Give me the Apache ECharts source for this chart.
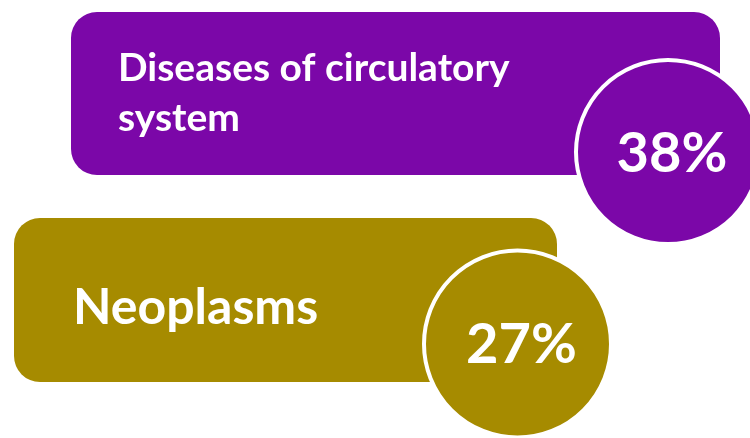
<!DOCTYPE html>
<html>
<head>
<meta charset="utf-8">
<script src="https://cdn.jsdelivr.net/npm/echarts@6/dist/echarts.min.js"></script>
<style>html,body{margin:0;padding:0;background:#fff}#c{width:750px;height:438px}</style>
</head>
<body>
<div id="c"></div>
<script>
// Data
const categories = ['Diseases of circulatory\nsystem', 'Neoplasms'];
const values = [38, 27];
const colors = ['#7B07A8', '#A68B00'];

// Layout (pixels, relative to category band centre for y)
const layout = [
  { x: 71, w: 649, top: -97.5, h: 163, r: 26, cx: 668, cy: 42.5, R: 92,
    tx: 118, ty: [-41.5, 8.5], fs: 39, pctY: 44.5, pctFs: 56 },
  { x: 14, w: 543, top: -110.5, h: 164, r: 26, cx: 517.5, cy: 15.5, R: 93.5,
    tx: 73, ty: [-21], fs: 50, pctY: 16.5, pctFs: 56 }
];
const FONT = 'Lato';

const chart = echarts.init(document.getElementById('c'));
chart.setOption({
  animation: false,
  grid: { left: 0, right: 0, top: 0, bottom: 0 },
  xAxis: { type: 'value', min: 0, max: 100, show: false },
  yAxis: { type: 'category', data: categories, inverse: true, show: false },
  series: [{
    type: 'custom',
    data: values.map((v, i) => [v, i]),
    renderItem: function (params, api) {
      const i = params.dataIndex;
      const L = layout[i];
      const base = api.coord([0, i])[1];
      const lines = categories[i].split('\n');
      const children = [
        { type: 'rect', shape: { x: L.x, y: base + L.top, width: L.w, height: L.h, r: L.r },
          style: { fill: colors[i] } },
        { type: 'circle', shape: { cx: L.cx, cy: base + L.cy, r: L.R },
          style: { fill: colors[i], stroke: '#ffffff', lineWidth: 4 } }
      ];
      lines.forEach((t, k) => {
        children.push({ type: 'text', style: {
          text: t, x: L.tx, y: base + L.ty[k], fill: '#fff',
          font: 'bold ' + L.fs + 'px ' + FONT, align: 'left', verticalAlign: 'middle' } });
      });
      children.push({ type: 'text', style: {
        text: api.value(0) + '%', x: L.cx + 4, y: base + L.pctY, fill: '#fff',
        font: 'bold ' + L.pctFs + 'px ' + FONT, align: 'center', verticalAlign: 'middle' } });
      return { type: 'group', children: children };
    }
  }]
});
</script>
</body>
</html>
